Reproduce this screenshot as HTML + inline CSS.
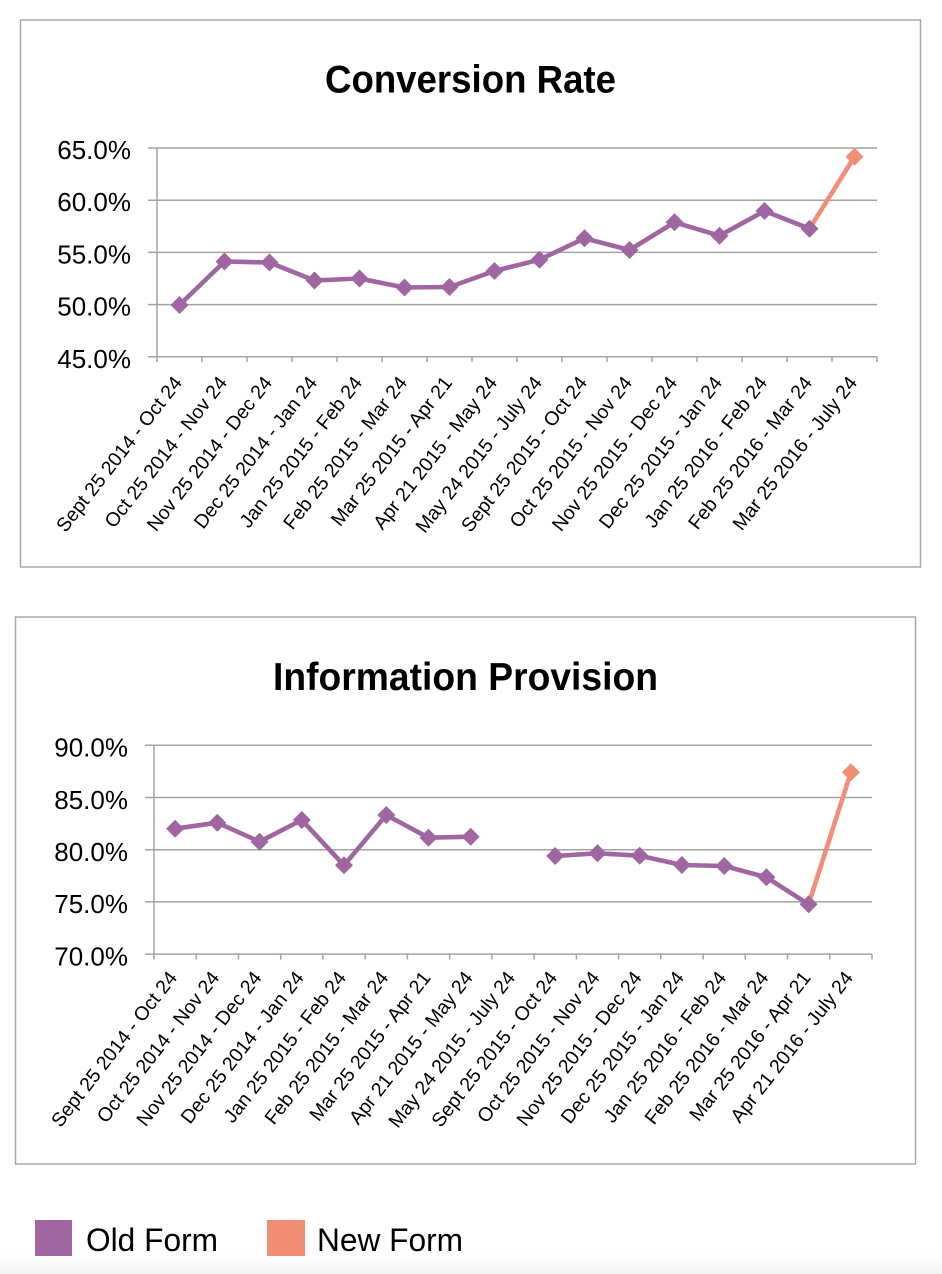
<!DOCTYPE html>
<html>
<head>
<meta charset="utf-8">
<style>
  html, body { margin: 0; padding: 0; background: #ffffff; }
  body { width: 942px; height: 1274px; overflow: hidden; }
  svg { display: block; }
  text { font-family: "Liberation Sans", sans-serif; fill: #000; }
  .yl { font-size: 26px; text-anchor: end; }
  .xl { font-size: 19.5px; text-anchor: end; }
  .ttl { font-size: 39px; font-weight: bold; }
  .grid { stroke: #a3a3a3; stroke-width: 1.5; fill: none; }
  .box { stroke: #a8a8a8; stroke-width: 1.5; fill: #fff; }
  .old { stroke: #a066a1; stroke-width: 4.6; fill: none; stroke-linejoin: round; }
  .new { stroke: #f08e76; stroke-width: 4.6; fill: none; }
  .dmo { fill: #a066a1; }
  .dmn { fill: #f08e76; }
</style>
</head>
<body>
<svg width="942" height="1274" viewBox="0 0 942 1274" xmlns="http://www.w3.org/2000/svg">
  <defs>
    <linearGradient id="bg" x1="0" y1="0" x2="0" y2="1">
      <stop offset="0" stop-color="#ffffff"/>
      <stop offset="1" stop-color="#f4f4f4"/>
    </linearGradient>
    <polygon id="dm" points="-9,0 0,-9 9,0 0,9"/>
  </defs>
  <rect x="0" y="1252" width="942" height="22" fill="url(#bg)"/>

  <!-- ================= Chart 1 ================= -->
  <rect class="box" x="20.5" y="20" width="900" height="547"/>
  <text class="ttl" x="325" y="92.5" textLength="291" lengthAdjust="spacingAndGlyphs">Conversion Rate</text>

  <g class="grid">
    <line x1="148" y1="148" x2="877" y2="148"/>
    <line x1="148" y1="200.2" x2="877" y2="200.2"/>
    <line x1="148" y1="252.4" x2="877" y2="252.4"/>
    <line x1="148" y1="304.6" x2="877" y2="304.6"/>
    <line x1="148" y1="356.8" x2="877" y2="356.8"/>
    <line x1="157" y1="148" x2="157" y2="356.8"/>
    <line x1="157" y1="356.8" x2="157" y2="362"/>
    <line x1="202" y1="356.8" x2="202" y2="362"/>
    <line x1="247" y1="356.8" x2="247" y2="362"/>
    <line x1="292" y1="356.8" x2="292" y2="362"/>
    <line x1="337" y1="356.8" x2="337" y2="362"/>
    <line x1="382" y1="356.8" x2="382" y2="362"/>
    <line x1="427" y1="356.8" x2="427" y2="362"/>
    <line x1="472" y1="356.8" x2="472" y2="362"/>
    <line x1="517" y1="356.8" x2="517" y2="362"/>
    <line x1="562" y1="356.8" x2="562" y2="362"/>
    <line x1="607" y1="356.8" x2="607" y2="362"/>
    <line x1="652" y1="356.8" x2="652" y2="362"/>
    <line x1="697" y1="356.8" x2="697" y2="362"/>
    <line x1="742" y1="356.8" x2="742" y2="362"/>
    <line x1="787" y1="356.8" x2="787" y2="362"/>
    <line x1="832" y1="356.8" x2="832" y2="362"/>
    <line x1="877" y1="356.8" x2="877" y2="362"/>
  </g>

  <text class="yl" x="131" y="159">65.0%</text>
  <text class="yl" x="131" y="211.2">60.0%</text>
  <text class="yl" x="131" y="263.4">55.0%</text>
  <text class="yl" x="131" y="315.6">50.0%</text>
  <text class="yl" x="131" y="367.8">45.0%</text>

  <polyline class="old" points="179.5,305 224.5,261.5 269.5,262.5 314.5,280.5 359.5,278.5 404.5,287.5 449.5,287 494.5,271 539.5,259.7 584.5,238.3 629.5,250 674.5,222.3 719.5,235.7 764.5,211 809.5,228.7"/>
  <polyline class="new" points="809.5,228.7 854.5,156.7"/>
  <g class="dmo">
    <use href="#dm" x="179.5" y="305"/>
    <use href="#dm" x="224.5" y="261.5"/>
    <use href="#dm" x="269.5" y="262.5"/>
    <use href="#dm" x="314.5" y="280.5"/>
    <use href="#dm" x="359.5" y="278.5"/>
    <use href="#dm" x="404.5" y="287.5"/>
    <use href="#dm" x="449.5" y="287"/>
    <use href="#dm" x="494.5" y="271"/>
    <use href="#dm" x="539.5" y="259.7"/>
    <use href="#dm" x="584.5" y="238.3"/>
    <use href="#dm" x="629.5" y="250"/>
    <use href="#dm" x="674.5" y="222.3"/>
    <use href="#dm" x="719.5" y="235.7"/>
    <use href="#dm" x="764.5" y="211"/>
    <use href="#dm" x="809.5" y="228.7"/>
  </g>
  <use href="#dm" class="dmn" x="854.5" y="156.7"/>

  <g>
    <text class="xl" transform="translate(183,383) rotate(-52)">Sept 25 2014 - Oct 24</text>
    <text class="xl" transform="translate(228,383) rotate(-52)">Oct 25 2014 - Nov 24</text>
    <text class="xl" transform="translate(273,383) rotate(-52)">Nov 25 2014 - Dec 24</text>
    <text class="xl" transform="translate(318,383) rotate(-52)">Dec 25 2014 - Jan 24</text>
    <text class="xl" transform="translate(363,383) rotate(-52)">Jan 25 2015 - Feb 24</text>
    <text class="xl" transform="translate(408,383) rotate(-52)">Feb 25 2015 - Mar 24</text>
    <text class="xl" transform="translate(453,383) rotate(-52)">Mar 25 2015 - Apr 21</text>
    <text class="xl" transform="translate(498,383) rotate(-52)">Apr 21 2015 - May 24</text>
    <text class="xl" transform="translate(543,383) rotate(-52)">May 24 2015 - July 24</text>
    <text class="xl" transform="translate(588,383) rotate(-52)">Sept 25 2015 - Oct 24</text>
    <text class="xl" transform="translate(633,383) rotate(-52)">Oct 25 2015 - Nov 24</text>
    <text class="xl" transform="translate(678,383) rotate(-52)">Nov 25 2015 - Dec 24</text>
    <text class="xl" transform="translate(723,383) rotate(-52)">Dec 25 2015 - Jan 24</text>
    <text class="xl" transform="translate(768,383) rotate(-52)">Jan 25 2016 - Feb 24</text>
    <text class="xl" transform="translate(813,383) rotate(-52)">Feb 25 2016 - Mar 24</text>
    <text class="xl" transform="translate(858,383) rotate(-52)">Mar 25 2016 - July 24</text>
  </g>

  <!-- ================= Chart 2 ================= -->
  <rect class="box" x="15.5" y="617" width="900" height="547"/>
  <text class="ttl" x="273" y="690" textLength="385" lengthAdjust="spacingAndGlyphs">Information Provision</text>

  <g class="grid">
    <line x1="145" y1="745.3" x2="872" y2="745.3"/>
    <line x1="145" y1="797.5" x2="872" y2="797.5"/>
    <line x1="145" y1="849.7" x2="872" y2="849.7"/>
    <line x1="145" y1="901.9" x2="872" y2="901.9"/>
    <line x1="145" y1="954.1" x2="872" y2="954.1"/>
    <line x1="154" y1="745.3" x2="154" y2="954.1"/>
    <line x1="154" y1="954.1" x2="154" y2="959.5"/>
    <line x1="196.2" y1="954.1" x2="196.2" y2="959.5"/>
    <line x1="238.5" y1="954.1" x2="238.5" y2="959.5"/>
    <line x1="280.7" y1="954.1" x2="280.7" y2="959.5"/>
    <line x1="322.9" y1="954.1" x2="322.9" y2="959.5"/>
    <line x1="365.2" y1="954.1" x2="365.2" y2="959.5"/>
    <line x1="407.4" y1="954.1" x2="407.4" y2="959.5"/>
    <line x1="449.6" y1="954.1" x2="449.6" y2="959.5"/>
    <line x1="491.9" y1="954.1" x2="491.9" y2="959.5"/>
    <line x1="534.1" y1="954.1" x2="534.1" y2="959.5"/>
    <line x1="576.4" y1="954.1" x2="576.4" y2="959.5"/>
    <line x1="618.6" y1="954.1" x2="618.6" y2="959.5"/>
    <line x1="660.8" y1="954.1" x2="660.8" y2="959.5"/>
    <line x1="703.1" y1="954.1" x2="703.1" y2="959.5"/>
    <line x1="745.3" y1="954.1" x2="745.3" y2="959.5"/>
    <line x1="787.5" y1="954.1" x2="787.5" y2="959.5"/>
    <line x1="829.8" y1="954.1" x2="829.8" y2="959.5"/>
    <line x1="872" y1="954.1" x2="872" y2="959.5"/>
  </g>

  <text class="yl" x="128" y="756.6">90.0%</text>
  <text class="yl" x="128" y="808.8">85.0%</text>
  <text class="yl" x="128" y="861">80.0%</text>
  <text class="yl" x="128" y="913.2">75.0%</text>
  <text class="yl" x="128" y="965.4">70.0%</text>

  <polyline class="old" points="175.1,828.7 217.3,822.7 259.6,841.7 301.8,820 344,865.3 386.3,815 428.5,837.7 470.7,836.7"/>
  <polyline class="old" points="555.2,856 597.5,853.3 639.7,855.7 681.9,865 724.2,866 766.4,877.3 808.6,904.3"/>
  <polyline class="new" points="808.6,904.3 850.9,772.3"/>
  <g class="dmo">
    <use href="#dm" x="175.1" y="828.7"/>
    <use href="#dm" x="217.3" y="822.7"/>
    <use href="#dm" x="259.6" y="841.7"/>
    <use href="#dm" x="301.8" y="820"/>
    <use href="#dm" x="344" y="865.3"/>
    <use href="#dm" x="386.3" y="815"/>
    <use href="#dm" x="428.5" y="837.7"/>
    <use href="#dm" x="470.7" y="836.7"/>
    <use href="#dm" x="555.2" y="856"/>
    <use href="#dm" x="597.5" y="853.3"/>
    <use href="#dm" x="639.7" y="855.7"/>
    <use href="#dm" x="681.9" y="865"/>
    <use href="#dm" x="724.2" y="866"/>
    <use href="#dm" x="766.4" y="877.3"/>
    <use href="#dm" x="808.6" y="904.3"/>
  </g>
  <use href="#dm" class="dmn" x="850.9" y="772.3"/>

  <g>
    <text class="xl" transform="translate(178,978) rotate(-52)">Sept 25 2014 - Oct 24</text>
    <text class="xl" transform="translate(220.3,978) rotate(-52)">Oct 25 2014 - Nov 24</text>
    <text class="xl" transform="translate(262.6,978) rotate(-52)">Nov 25 2014 - Dec 24</text>
    <text class="xl" transform="translate(304.8,978) rotate(-52)">Dec 25 2014 - Jan 24</text>
    <text class="xl" transform="translate(347,978) rotate(-52)">Jan 25 2015 - Feb 24</text>
    <text class="xl" transform="translate(389.3,978) rotate(-52)">Feb 25 2015 - Mar 24</text>
    <text class="xl" transform="translate(431.5,978) rotate(-52)">Mar 25 2015 - Apr 21</text>
    <text class="xl" transform="translate(473.7,978) rotate(-52)">Apr 21 2015 - May 24</text>
    <text class="xl" transform="translate(516,978) rotate(-52)">May 24 2015 - July 24</text>
    <text class="xl" transform="translate(558.2,978) rotate(-52)">Sept 25 2015 - Oct 24</text>
    <text class="xl" transform="translate(600.5,978) rotate(-52)">Oct 25 2015 - Nov 24</text>
    <text class="xl" transform="translate(642.7,978) rotate(-52)">Nov 25 2015 - Dec 24</text>
    <text class="xl" transform="translate(684.9,978) rotate(-52)">Dec 25 2015 - Jan 24</text>
    <text class="xl" transform="translate(727.2,978) rotate(-52)">Jan 25 2016 - Feb 24</text>
    <text class="xl" transform="translate(769.4,978) rotate(-52)">Feb 25 2016 - Mar 24</text>
    <text class="xl" transform="translate(811.6,978) rotate(-52)">Mar 25 2016 - Apr 21</text>
    <text class="xl" transform="translate(853.9,978) rotate(-52)">Apr 21 2016 - July 24</text>
  </g>

  <!-- ================= Legend ================= -->
  <rect x="35" y="1220" width="37" height="36" fill="#a066a1"/>
  <text x="86" y="1251" style="font-size:32px" textLength="132" lengthAdjust="spacingAndGlyphs">Old Form</text>
  <rect x="267" y="1220" width="38" height="36" fill="#f08e76"/>
  <text x="317" y="1251" style="font-size:32px" textLength="146" lengthAdjust="spacingAndGlyphs">New Form</text>
</svg>
</body>
</html>
